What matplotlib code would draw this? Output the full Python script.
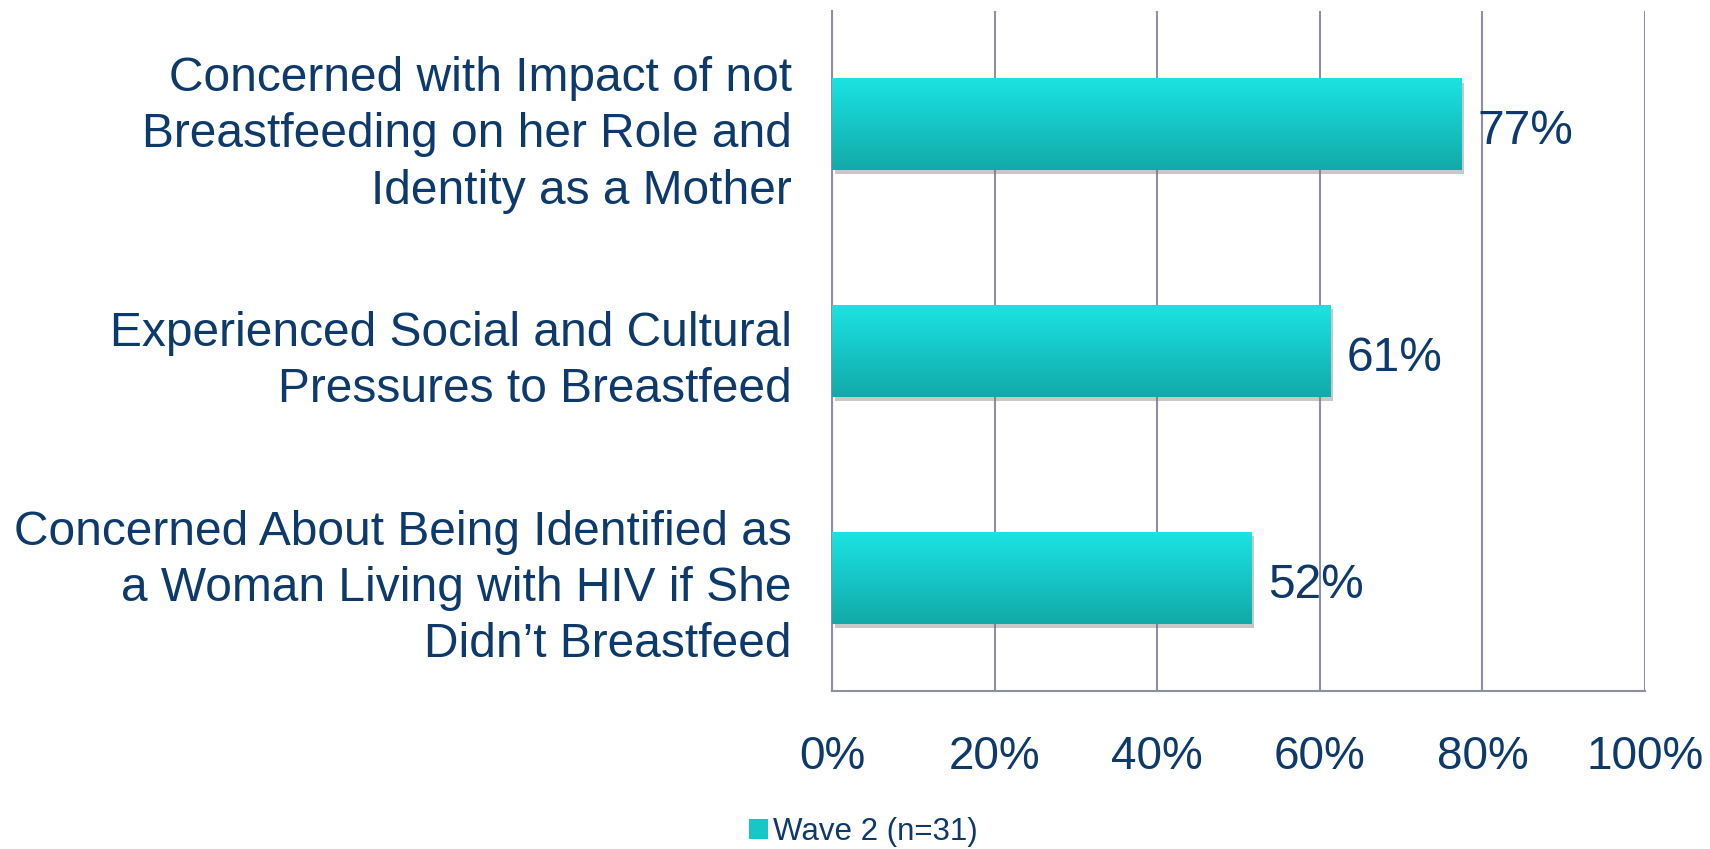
import numpy as np
import matplotlib
matplotlib.use("Agg")
import matplotlib.pyplot as plt
from matplotlib import patheffects
from matplotlib.colors import LinearSegmentedColormap
from matplotlib.patches import Rectangle

categories = [
    "Concerned with Impact of not\nBreastfeeding on her Role and\nIdentity as a Mother",
    "Experienced Social and Cultural\nPressures to Breastfeed",
    "Concerned About Being Identified as\na Woman Living with HIV if She\nDidn\u2019t Breastfeed",
]
values = [0.774, 0.613, 0.516]
value_labels = ["77%", "61%", "52%"]
xticks = [0, 0.2, 0.4, 0.6, 0.8, 1.0]
xtick_labels = ["0%", "20%", "40%", "60%", "80%", "100%"]
series_name = "Wave 2 (n=31)"

TEXT = "#0E3A6B"
GRID = "#8C90A2"
TOP_C = "#1CE3E3"
BOT_C = "#12A9A9"

plt.rcParams['font.family'] = ['Liberation Sans', 'DejaVu Sans']

fig = plt.figure(figsize=(17.10, 8.49), dpi=100)
ax = fig.add_axes([832/1710, 1-691/849, (1645-832)/1710, (691-11)/849])

y = np.arange(len(categories))
bars = ax.barh(y, values, height=0.405, color=BOT_C, zorder=3)

cmap = LinearSegmentedColormap.from_list("g", [TOP_C, BOT_C])
grad = np.linspace(0, 1, 256).reshape(-1, 1)
for b in bars:
    b.set_path_effects([patheffects.SimplePatchShadow(offset=(2, -3), shadow_rgbFace="#777777", alpha=0.4),
                        patheffects.Normal()])
    x0, y0, w, h = b.get_x(), b.get_y(), b.get_width(), b.get_height()
    im = ax.imshow(grad, cmap=cmap, aspect='auto', extent=(x0, x0 + w, y0 + h, y0),
                   origin='upper', zorder=4, interpolation='bilinear')
    im.set_clip_path(b)

for yi, v, lab in zip(y, values, value_labels):
    ax.annotate(lab, xy=(v, yi), xytext=(12, -5.5), textcoords='offset points',
                va='center', ha='left', fontsize=34.5, color=TEXT, zorder=5)

ax.set_xlim(0, 1.0)
ax.set_ylim(len(categories) - 0.5, -0.5)
ax.set_yticks(y)
ax.set_yticklabels(categories, fontsize=34.5, color=TEXT, linespacing=1.32)
ax.set_xticks(xticks)
ax.set_xticklabels(xtick_labels, fontsize=33, color=TEXT)
ax.tick_params(axis='y', length=0, pad=29)
ax.tick_params(axis='x', length=0, pad=31.5)

for s in ['top', 'right']:
    ax.spines[s].set_visible(False)
for s in ['left', 'bottom']:
    ax.spines[s].set_color(GRID)
    ax.spines[s].set_linewidth(1.5)
    ax.spines[s].set_zorder(2)
ax.xaxis.grid(True, color=GRID, linewidth=1.5, zorder=1)
ax.set_axisbelow(True)

handle = Rectangle((0, 0), 1, 1, facecolor="#17C6C6", edgecolor="none")
fig.legend([handle], [series_name], loc='lower center', bbox_to_anchor=(0.505, -0.031),
           frameon=False, fontsize=22.5, labelcolor=TEXT, handlelength=0.6, handleheight=0.6,
           handletextpad=0.15)

fig.savefig("out.png", dpi=100)
